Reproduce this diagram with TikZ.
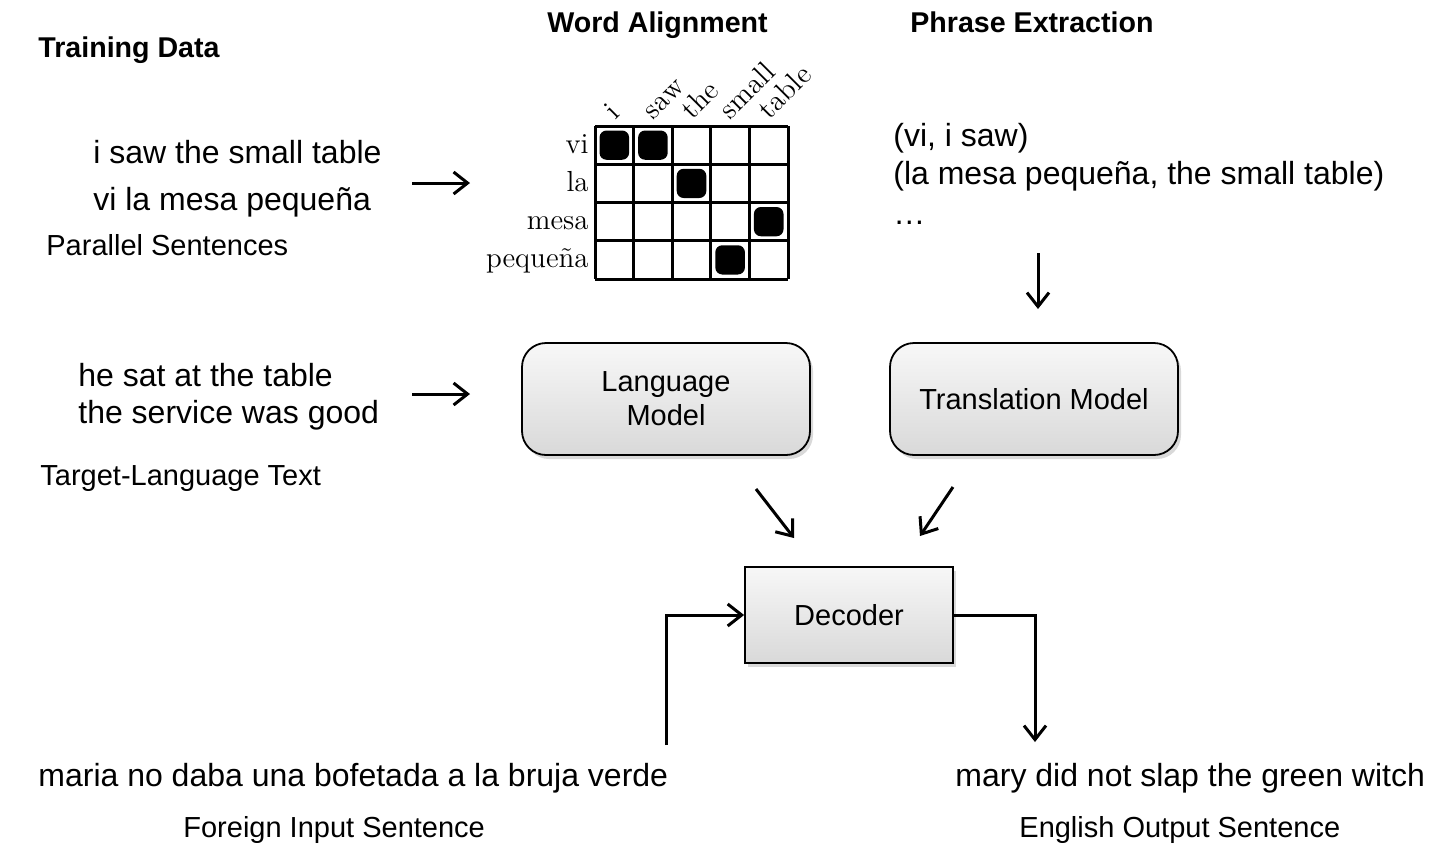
\documentclass[tikz,border=0pt]{standalone}
\usepackage{fontspec}
\newfontfamily\arialf{Liberation Sans}
\usetikzlibrary{arrows.meta,shadows,calc}
\begin{document}
\begin{tikzpicture}[x=0.5pt,y=-0.5pt,
  big/.style={font=\arialf\fontsize{16}{19}\selectfont, inner sep=0pt, anchor=base west},
  small/.style={font=\arialf\fontsize{14.5}{17}\selectfont, inner sep=0pt, anchor=base west},
  head/.style={font=\arialf\bfseries\fontsize{14.3}{17}\selectfont, inner sep=0pt, anchor=base west},
  ser/.style={font=\fontsize{14.5}{17}\selectfont, inner sep=0pt},
  arr/.style={line width=1.5pt, -{Straight Barb[length=7pt,width=11pt,line width=1.5pt]}},
  model/.style={draw=black, line width=0.9pt, rounded corners=12pt, minimum width=144pt, minimum height=56pt,
    top color=gray!6, bottom color=gray!30, align=center,
    font=\arialf\fontsize{14.5}{17}\selectfont,
    drop shadow={shadow xshift=1.5pt, shadow yshift=-2pt, opacity=0.3}},
  deco/.style={draw=black, line width=0.9pt, minimum width=104pt, minimum height=48pt,
    top color=gray!6, bottom color=gray!30,
    font=\arialf\fontsize{14.5}{17}\selectfont,
    drop shadow={shadow xshift=1.5pt, shadow yshift=-2pt, opacity=0.3}}
]
\useasboundingbox (0,0) rectangle (1431,843);

% headings
\node[head] (hTD) at (38,57) {Training Data};
\node[head] (hWA) at (547,32) {Word Alignment};
\node[head] (hPE) at (910,32) {Phrase Extraction};

% parallel sentences
\node[big] (s1) at (93,163) {i saw the small table};
\node[big] (s2) at (93,210) {vi la mesa pequeña};
\node[small] (s3) at (46,255) {Parallel Sentences};

% target text
\node[big] (t1) at (78,386) {he sat at the table};
\node[big] (t2) at (78,423) {the service was good};
\node[small] (t3) at (40,485) {Target-Language Text};

% phrases
\node[big] (p1) at (893,146) {(vi, i saw)};
\node[big] (p2) at (893,184) {(la mesa pequeña, the small table)};
\node[big] (p3) at (893,224) {…};

% matrix
\def\gx{595}\def\gy{126}\def\cw{38.6}\def\ch{38.25}
\foreach \i in {0,...,5} {
  \draw[line width=1.5pt] ({\gx+\i*\cw},\gy) -- ({\gx+\i*\cw},{\gy+4*\ch});
}
\foreach \j in {0,...,4} {
  \draw[line width=1.5pt] (\gx,{\gy+\j*\ch}) -- ({\gx+5*\cw},{\gy+\j*\ch});
}
\foreach \r/\c in {1/1,1/2,2/3,3/5,4/4} {
  \fill[black, rounded corners=3.5pt] ({\gx+(\c-1)*\cw+4.5},{\gy+(\r-1)*\ch+4.5}) rectangle ({\gx+\c*\cw-4.5},{\gy+\r*\ch-4.5});
}
\foreach \w [count=\r] in {vi,la,mesa,pequeña} {
  \node[ser, anchor=base east] (row\r) at (589,{\gy+(\r-0.5)*\ch+8}) {\w};
}
\foreach \w [count=\c] in {i,saw,the,small,table} {
  \node[ser, anchor=south west, rotate=45] (col\c) at ({\gx+(\c-0.5)*\cw+1},121) {\w};
}

% models
\node[model] (lm) at (666,399) {Language\\Model};
\node[model] (tm) at (1034,399) {Translation Model};
\node[deco] (dec) at (849,615) {Decoder};

% arrows
\coordinate (a1s) at (412,183); \coordinate (a1e) at (470,183);
\draw[arr] (a1s) -- (a1e);
\coordinate (a2s) at (412,394); \coordinate (a2e) at (470,394);
\draw[arr] (a2s) -- (a2e);
\coordinate (a3s) at (1038,253); \coordinate (a3e) at (1038,309);
\draw[arr] (a3s) -- (a3e);
\coordinate (a4s) at (756,489); \coordinate (a4e) at (794,538);
\draw[arr] (a4s) -- (a4e);
\coordinate (a5s) at (953,487); \coordinate (a5e) at (920,536);
\draw[arr] (a5s) -- (a5e);

\coordinate (inp) at (666,745);
\draw[arr] (inp) |- (dec.west);
\coordinate (outp) at (1035,742);
\draw[arr] (dec.east) -| (outp);

% bottom texts
\node[big] (f1) at (38,786) {maria no daba una bofetada a la bruja verde};
\node[small] (f2) at (183,837) {Foreign Input Sentence};
\node[big] (e1) at (955,786) {mary did not slap the green witch};
\node[small] (e2) at (1019,837) {English Output Sentence};
\end{tikzpicture}
\end{document}
